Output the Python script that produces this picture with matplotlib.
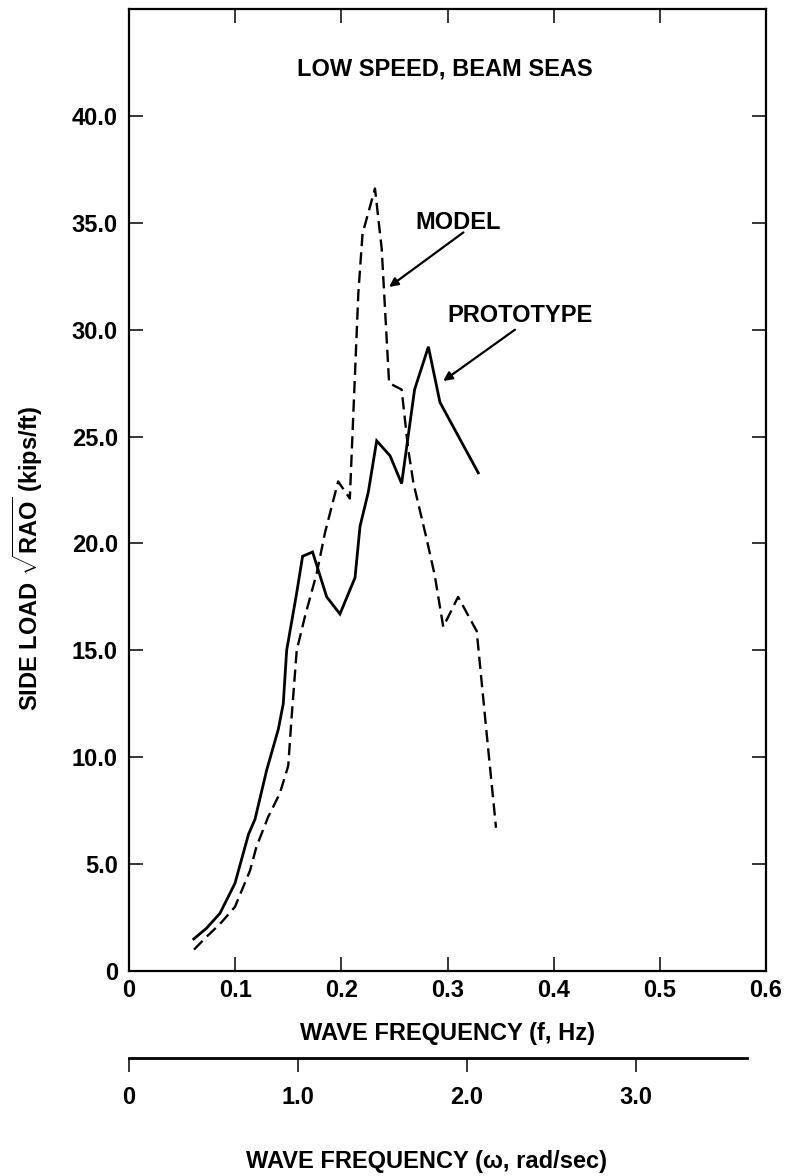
import numpy as np
import matplotlib
matplotlib.use("Agg")
import matplotlib.pyplot as plt

# ---- data ----
f_proto = [0.061, 0.073, 0.0857, 0.0998, 0.1126, 0.1187, 0.1297, 0.1406, 0.1453,
           0.1485, 0.158, 0.1635, 0.1729, 0.1862, 0.1987, 0.2129, 0.2176, 0.2254,
           0.2333, 0.2459, 0.2568, 0.269, 0.282, 0.2929, 0.329]
y_proto = [1.5, 2.0, 2.7, 4.1, 6.4, 7.1, 9.4, 11.3, 12.5,
           15.0, 17.7, 19.4, 19.6, 17.5, 16.7, 18.4, 20.8, 22.4,
           24.8, 24.1, 22.8, 27.2, 29.2, 26.6, 23.3]

f_model = [0.0612, 0.073, 0.0857, 0.0998, 0.114, 0.120, 0.131, 0.142, 0.150,
           0.1532, 0.158, 0.1658, 0.1768, 0.1846, 0.197, 0.208, 0.216, 0.220,
           0.2317, 0.238, 0.245, 0.2568, 0.263, 0.268, 0.2804, 0.288, 0.296,
           0.310, 0.3275, 0.3369, 0.3457]
y_model = [1.0, 1.6, 2.2, 3.0, 4.7, 5.8, 7.2, 8.3, 9.6,
           11.9, 15.0, 16.6, 18.6, 20.5, 22.9, 22.1, 31.7, 34.5,
           36.6, 33.8, 27.5, 27.2, 24.4, 22.8, 20.2, 18.5, 16.1,
           17.5, 15.9, 11.1, 6.7]

x_ticks = [0, 0.1, 0.2, 0.3, 0.4, 0.5, 0.6]
x_ticklabels = ["0", "0.1", "0.2", "0.3", "0.4", "0.5", "0.6"]
y_ticks = [0, 5, 10, 15, 20, 25, 30, 35, 40]
y_ticklabels = ["0", "5.0", "10.0", "15.0", "20.0", "25.0", "30.0", "35.0", "40.0"]
w_ticks = [0, 1, 2, 3]
w_ticklabels = ["0", "1.0", "2.0", "3.0"]

title_text = "LOW SPEED, BEAM SEAS"
xlabel_f = "WAVE FREQUENCY (f, Hz)"
xlabel_w = "WAVE FREQUENCY (\u03c9, rad/sec)"
ylabel = r"SIDE LOAD $\sqrt{\mathbf{RAO}}$ (kips/ft)"

# ---- style ----
plt.rcParams['font.family'] = ['Liberation Sans', 'DejaVu Sans']
plt.rcParams['font.weight'] = 'bold'
plt.rcParams['mathtext.fontset'] = 'custom'
plt.rcParams['mathtext.rm'] = 'Liberation Sans:bold'
plt.rcParams['mathtext.bf'] = 'Liberation Sans:bold'
plt.rcParams['mathtext.it'] = 'Liberation Sans:bold'
FS = 17

W, H = 786, 1176
fig = plt.figure(figsize=(W / 100, H / 100), dpi=100)

L, R, T, B = 129, 766, 9, 971
ax = fig.add_axes([L / W, 1 - B / H, (R - L) / W, (B - T) / H])

ax.plot(f_proto, y_proto, color='black', lw=2.0, solid_joinstyle='miter')
ln, = ax.plot(f_model, y_model, color='black', lw=1.7)
ln.set_dashes((5.2, 2.6))

ax.set_xlim(0, 0.6)
ax.set_ylim(0, 45)
ax.set_xticks(x_ticks)
ax.set_xticklabels(x_ticklabels)
ax.set_yticks(y_ticks)
ax.set_yticklabels(y_ticklabels)
ax.tick_params(direction='in', top=True, right=True, length=10, width=1.1,
               labelsize=FS, color='black')
ax.tick_params(axis='x', pad=6)
ax.tick_params(axis='y', pad=8)
for lab in ax.get_xticklabels() + ax.get_yticklabels():
    lab.set_fontweight('bold')
for s in ax.spines.values():
    s.set_linewidth(1.6)

# annotations
ax.text(0.2976, 41.87, title_text, ha='center', va='baseline', fontsize=FS,
        fontweight='bold')
ax.text(0.310, 34.7, "MODEL", ha='center', va='baseline', fontsize=FS,
        fontweight='bold')
ax.text(0.368, 30.37, "PROTOTYPE", ha='center', va='baseline', fontsize=FS,
        fontweight='bold')
arrow = dict(arrowstyle='-|>', lw=1.6, color='black', mutation_scale=13,
             shrinkA=0, shrinkB=0)
ax.annotate("", xy=(0.245, 32.0), xytext=(0.315, 34.55), arrowprops=arrow)
ax.annotate("", xy=(0.296, 27.6), xytext=(0.3636, 30.0), arrowprops=arrow)

# axis labels as figure text
fig.text(447 / W, 1 - 1040 / H, xlabel_f, ha='center', va='baseline',
         fontsize=FS, fontweight='bold')
fig.text(426 / W, 1 - 1168 / H, xlabel_w, ha='center', va='baseline',
         fontsize=FS, fontweight='bold')
fig.text(38 / W, 1 - 558 / H, ylabel, rotation=90, rotation_mode='anchor',
         ha='center', va='baseline', fontsize=FS, fontweight='bold')

# second (omega) axis
f_end = (747 - L) / (R - L) * 0.6
ax2 = fig.add_axes([L / W, 1 - 1058 / H, (747 - L) / W, 0.0005])
ax2.set_xlim(0, 2 * np.pi * f_end)
ax2.set_ylim(0, 1)
ax2.patch.set_visible(False)
for k in ('top', 'left', 'right'):
    ax2.spines[k].set_visible(False)
ax2.spines['bottom'].set_linewidth(2.0)
ax2.set_yticks([])
ax2.set_xticks(w_ticks)
ax2.set_xticklabels(w_ticklabels)
ax2.tick_params(axis='x', direction='out', length=10, width=1.1, pad=10,
                labelsize=FS)
for lab in ax2.get_xticklabels():
    lab.set_fontweight('bold')

fig.savefig("out.png", dpi=100)
